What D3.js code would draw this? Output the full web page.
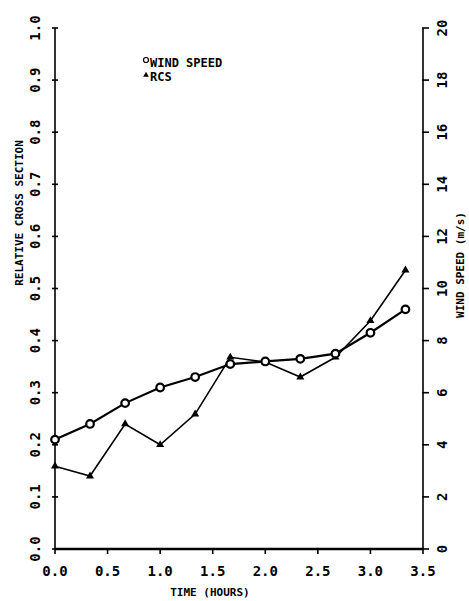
<!DOCTYPE html>
<html><head><meta charset="utf-8">
<script src="https://cdn.jsdelivr.net/npm/d3@7"></script>
<style>body{margin:0;background:#fff}svg{display:block}</style>
</head><body>
<script>
const timeHours = [0, 0.333, 0.667, 1.0, 1.333, 1.667, 2.0, 2.333, 2.667, 3.0, 3.333];
const windSpeed = [4.2, 4.8, 5.6, 6.2, 6.6, 7.1, 7.2, 7.3, 7.5, 8.3, 9.2];
const rcs = [0.159, 0.14, 0.24, 0.2, 0.259, 0.368, 0.359, 0.33, 0.368, 0.438, 0.535];
const xTicks = [0, 0.5, 1.0, 1.5, 2.0, 2.5, 3.0, 3.5];
const leftTicks = [0, 0.1, 0.2, 0.3, 0.4, 0.5, 0.6, 0.7, 0.8, 0.9, 1.0];
const rightTicks = [0, 2, 4, 6, 8, 10, 12, 14, 16, 18, 20];

const W = 469, H = 601;
const svg = d3.select("body").append("svg").attr("width", W).attr("height", H);
const x = d3.scaleLinear().domain([0, 3.5]).range([55, 423]);
const yL = d3.scaleLinear().domain([0, 1]).range([549, 28]);
const yR = d3.scaleLinear().domain([0, 20]).range([549, 28]);
const font = "'DejaVu Sans Mono', monospace";

svg.append("line").attr("x1", x(0)).attr("x2", x(0)).attr("y1", yL(0)).attr("y2", yL(1)).attr("stroke", "#000").attr("stroke-width", 1.6);
svg.append("line").attr("x1", x(3.5)).attr("x2", x(3.5)).attr("y1", yR(0)).attr("y2", yR(20)).attr("stroke", "#000").attr("stroke-width", 1.6);
svg.append("line").attr("x1", x(0)).attr("x2", x(3.5)).attr("y1", yL(0)).attr("y2", yL(0)).attr("stroke", "#000").attr("stroke-width", 2.4);

const lt = svg.append("g");
leftTicks.forEach(v => {
  lt.append("line").attr("x1", x(0) - 3).attr("x2", x(0) + 3).attr("y1", yL(v)).attr("y2", yL(v)).attr("stroke", "#000").attr("stroke-width", 1.6);
  lt.append("text").attr("transform", `translate(40,${yL(v)}) rotate(-90)`)
    .attr("text-anchor", "middle").attr("font-family", font).attr("font-size", 14).attr("font-weight", "bold")
    .text(v.toFixed(1));
});
rightTicks.forEach(v => {
  lt.append("line").attr("x1", x(3.5) - 1).attr("x2", x(3.5) + 6).attr("y1", yR(v)).attr("y2", yR(v)).attr("stroke", "#000").attr("stroke-width", 1.6);
  lt.append("text").attr("transform", `translate(447,${yR(v)}) rotate(-90)`)
    .attr("text-anchor", "middle").attr("font-family", font).attr("font-size", 14).attr("font-weight", "bold")
    .text(v);
});
xTicks.forEach(v => {
  lt.append("line").attr("x1", x(v)).attr("x2", x(v)).attr("y1", yL(0)).attr("y2", yL(0) + 5).attr("stroke", "#000").attr("stroke-width", 1.6);
  lt.append("text").attr("x", x(v)).attr("y", 576).attr("text-anchor", "middle")
    .attr("font-family", font).attr("font-size", 14).attr("font-weight", "bold").text(v.toFixed(1));
});

svg.append("text").attr("x", 210).attr("y", 596).attr("text-anchor", "middle")
  .attr("font-family", font).attr("font-size", 11).attr("font-weight", "bold").text("TIME (HOURS)");
svg.append("text").attr("transform", "translate(23,213) rotate(-90)").attr("text-anchor", "middle")
  .attr("font-family", font).attr("font-size", 11).attr("font-weight", "bold").text("RELATIVE CROSS SECTION");
svg.append("text").attr("transform", "translate(464,265) rotate(-90)").attr("text-anchor", "middle")
  .attr("font-family", font).attr("font-size", 11).attr("font-weight", "bold").text("WIND SPEED (m/s)");

const windPts = timeHours.map((t, i) => [x(t), yR(windSpeed[i])]);
const rcsPts = timeHours.map((t, i) => [x(t), yL(rcs[i])]);
const line = d3.line();
svg.append("path").attr("d", line(rcsPts)).attr("fill", "none").attr("stroke", "#000").attr("stroke-width", 1.6);
svg.append("path").attr("d", line(windPts)).attr("fill", "none").attr("stroke", "#000").attr("stroke-width", 2.2);

const tri = d3.symbol().type(d3.symbolTriangle).size(28);
svg.append("g").selectAll("path").data(rcsPts).join("path")
  .attr("transform", d => `translate(${d[0]},${d[1]})`).attr("d", tri).attr("fill", "#000");
svg.append("g").selectAll("circle").data(windPts).join("circle")
  .attr("cx", d => d[0]).attr("cy", d => d[1]).attr("r", 3.8)
  .attr("fill", "#fff").attr("stroke", "#000").attr("stroke-width", 2.2);

svg.append("circle").attr("cx", 146).attr("cy", 60).attr("r", 2.5).attr("fill", "#fff").attr("stroke", "#000").attr("stroke-width", 1.2);
svg.append("text").attr("x", 150).attr("y", 67).attr("font-family", font).attr("font-size", 12).attr("font-weight", "bold").text("WIND SPEED");
svg.append("path").attr("transform", "translate(146,75)").attr("d", d3.symbol().type(d3.symbolTriangle).size(14)).attr("fill", "#000");
svg.append("text").attr("x", 150).attr("y", 81).attr("font-family", font).attr("font-size", 12).attr("font-weight", "bold").text("RCS");
</script>
</body></html>
